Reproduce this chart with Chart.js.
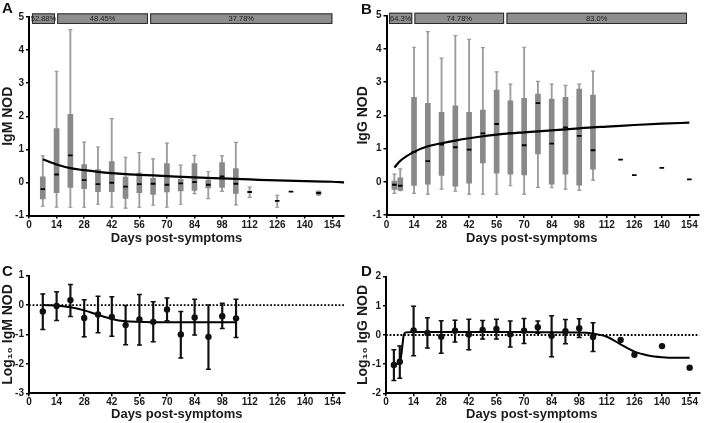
<!DOCTYPE html>
<html><head><meta charset="utf-8">
<script src="https://cdn.jsdelivr.net/npm/chart.js@4.4.1/dist/chart.umd.min.js"></script>
<style>
html,body{margin:0;padding:0;background:#fff;width:705px;height:423px;overflow:hidden;position:relative;}
canvas{position:absolute;}
.lbl{position:absolute;font:bold 15px "Liberation Sans",Arial,sans-serif;line-height:15px;color:#111;}
</style></head><body>
<canvas id="cA" style="left:0;top:0;width:350px;height:250px" width="350" height="250"></canvas>
<canvas id="cB" style="left:355px;top:0;width:350px;height:250px" width="350" height="250"></canvas>
<canvas id="cC" style="left:0;top:250px;width:350px;height:173px" width="350" height="173"></canvas>
<canvas id="cD" style="left:355px;top:250px;width:350px;height:173px" width="350" height="173"></canvas>
<div class="lbl" style="left:2px;top:0px">A</div>
<div class="lbl" style="left:361px;top:1px">B</div>
<div class="lbl" style="left:2px;top:263px">C</div>
<div class="lbl" style="left:361px;top:263px">D</div>
<script>
// ---------------- shared ----------------
const xTickDays = [0,14,28,42,56,70,84,98,112,126,140,154];
const xTitle = 'Days post-symptoms';
const yTicksAB = [-1,0,1,2,3,4,5];
const yTicksC = [-3,-2,-1,0,1];
const yTicksD = [-2,-1,0,1,2];

// ---------------- Panel A : IgM NOD box plots ----------------
const igmDays = [7,14,21,28,35,42,49,56,63,70,77,84,91,98,105,112,126,133,147];
const igmMin  = [-0.72,-0.75,-0.75,-0.75,-0.66,-0.75,-0.78,-0.75,-0.69,-0.75,-0.66,-0.34,-0.49,-0.27,-0.68,-0.45,-0.75,null,-0.39];
const igmQ1   = [-0.50,-0.31,-0.15,-0.19,-0.28,-0.28,-0.48,-0.31,-0.36,-0.29,-0.26,-0.24,-0.17,-0.15,-0.33,null,null,null,-0.36];
const igmMed  = [-0.20,0.24,0.82,0.07,-0.05,-0.01,-0.13,-0.05,-0.04,-0.07,-0.03,0.01,-0.07,0.18,-0.04,-0.29,-0.56,-0.28,-0.32];
const igmQ3   = [0.17,1.63,2.06,0.54,0.39,0.63,0.16,0.28,0.12,0.57,0.09,0.57,0.07,0.60,0.42,null,null,null,-0.28];
const igmMax  = [0.80,3.36,4.62,1.22,1.07,1.93,0.76,0.90,0.71,1.19,0.52,0.82,0.33,0.80,1.21,-0.14,-0.39,null,-0.26];
const igmFitDays = [7,14,21,28,35,42,49,56,63,70,84,98,112,126,140,154,160];
const igmFitVals = [0.70,0.54,0.43,0.37,0.32,0.28,0.25,0.23,0.21,0.19,0.15,0.12,0.09,0.06,0.04,0.02,0.00];
const igmBandFrom  = [1.5,14.3,61.5];
const igmBandTo    = [13.2,60.4,154];
const igmBandLabel = ['52.88%','48.45%','37.78%'];

// ---------------- Panel B : IgG NOD box plots ----------------
const iggDays = [4,7,14,21,28,35,42,49,56,63,70,77,84,91,98,105,119,126,140,154];
const iggMin  = [-0.35,-0.27,-0.35,-0.37,-0.22,-0.28,-0.37,-0.37,-0.37,-0.12,-0.37,-0.17,-0.18,-0.22,-0.26,0.05,null,null,null,null];
const iggQ1   = [-0.23,-0.25,-0.11,-0.07,0.19,-0.13,-0.04,0.57,0.26,0.23,0.21,0.84,-0.07,0.23,-0.10,0.38,null,null,null,null];
const iggMed  = [-0.09,-0.12,0.90,0.62,1.12,1.04,0.97,1.46,1.74,1.47,1.10,2.37,1.15,1.64,1.38,0.95,0.67,0.20,0.42,0.07];
const iggQ3   = [0.02,0.12,2.54,2.36,2.09,2.29,2.09,2.16,2.76,2.44,2.51,2.64,2.49,2.54,2.79,2.61,null,null,null,null];
const iggMax  = [0.23,0.39,4.05,4.52,3.72,4.40,4.29,4.04,3.31,2.94,4.05,3.02,2.94,2.90,2.94,3.33,null,null,null,null];
const iggFitDays = [4,7,14,21,28,35,42,49,56,63,70,77,84,91,98,105,112,126,140,154];
const iggFitVals = [0.43,0.63,0.90,1.07,1.16,1.24,1.31,1.37,1.42,1.46,1.49,1.52,1.55,1.58,1.61,1.64,1.66,1.71,1.75,1.78];
const iggBandFrom  = [1.3,14.2,61.0];
const iggBandTo    = [13.1,59.8,152.8];
const iggBandLabel = ['64.3%','74.78%','83.0%'];

// ---------------- Panel C : Log10 IgM NOD ----------------
const cDays = [7,14,21,28,35,42,49,56,63,70,77,84,91,98,105];
const cMean = [-0.22,-0.03,0.17,-0.44,-0.32,-0.40,-0.68,-0.49,-0.57,-0.15,-1.00,-0.42,-1.08,-0.38,-0.45];
const cHi   = [0.38,0.45,0.70,0.18,0.30,0.28,-0.01,0.36,0.11,0.24,-0.22,0.20,0.00,0.06,0.20];
const cLo   = [-0.83,-0.52,-0.39,-1.08,-0.94,-1.06,-1.35,-1.36,-1.25,-0.53,-1.80,-1.02,-2.18,-0.80,-1.10];
const cFitDays = [7,14,21,28,35,42,49,56,63,84,105];
const cFitVals = [0.00,-0.01,-0.07,-0.18,-0.33,-0.47,-0.55,-0.57,-0.58,-0.58,-0.58];

// ---------------- Panel D : Log10 IgG NOD ----------------
const dDays = [4,7,14,21,28,35,42,49,56,63,70,77,84,91,98,105,119,126,140,154];
const dMean = [-1.03,-0.92,0.16,0.07,-0.06,0.15,0.02,0.17,0.21,0.03,0.15,0.27,-0.03,0.13,0.23,-0.07,-0.17,-0.68,-0.38,-1.12];
const dHi   = [-0.51,-0.38,0.99,0.59,0.49,0.51,0.54,0.50,0.54,0.48,0.57,0.48,0.66,0.53,0.56,0.42,null,null,null,null];
const dLo   = [-1.56,-1.48,-0.71,-0.45,-0.63,-0.24,-0.51,-0.14,-0.14,-0.41,-0.29,0.06,-0.75,-0.30,-0.09,-0.57,null,null,null,null];
const dFitDays = [4,6,7,8,9,10,14,56,98,105,112,119,126,133,140,147,154];
const dFitVals = [-1.00,-0.99,-0.96,-0.55,0.00,0.09,0.10,0.10,0.09,0.05,-0.06,-0.32,-0.57,-0.70,-0.76,-0.78,-0.78];

// ---------------- helpers ----------------
const FAMILY = '"Liberation Sans", Arial, Helvetica, sans-serif';
Chart.defaults.font.family = FAMILY;
const INK = '#1a1a1a';

const bandPlugin = {
  id: 'bands',
  afterDatasetsDraw(chart, args, opts) {
    const items = opts.items || [];
    if (!items.length) return;
    const {ctx, scales: {x, y}} = chart;
    ctx.save();
    items.forEach(b => {
      const x0 = x.getPixelForValue(b.from), x1 = x.getPixelForValue(b.to);
      const y0 = y.getPixelForValue(b.top), y1 = y.getPixelForValue(b.bottom);
      ctx.fillStyle = '#8e8e8e';
      ctx.fillRect(x0, y0, x1 - x0, y1 - y0);
      ctx.strokeStyle = '#2a2a2a';
      ctx.lineWidth = 1;
      ctx.strokeRect(x0 + 0.5, y0 + 0.5, x1 - x0 - 1, y1 - y0 - 1);
      ctx.fillStyle = '#1e1e1e';
      ctx.font = '7.5px ' + FAMILY;
      ctx.textAlign = 'center';
      ctx.textBaseline = 'middle';
      ctx.fillText(b.label, (x0 + x1) / 2, (y0 + y1) / 2 + 0.5);
    });
    ctx.restore();
  }
};

// x-axis title drawn under the axis, slightly left of the axis centre as in the figure
const xTitlePlugin = {
  id: 'xTitle',
  afterDraw(chart, args, opts) {
    const {ctx, chartArea} = chart;
    ctx.save();
    ctx.fillStyle = INK;
    ctx.font = 'bold 13px ' + FAMILY;
    ctx.textAlign = 'center';
    ctx.textBaseline = 'middle';
    ctx.fillText(opts.text, (chartArea.left + chartArea.right) / 2 + opts.dx, chartArea.bottom + opts.dy);
    ctx.restore();
  }
};

function bands(from, to, labels, top, bottom) {
  return from.map((f, i) => ({from: f, to: to[i], label: labels[i], top, bottom}));
}

function boxDatasets(days, mn, q1, med, q3, mx, fitDays, fitVals) {
  const whisk = [], caps = [], boxes = [], meds = [];
  days.forEach((d, i) => {
    if (mn[i] != null && mx[i] != null) {
      whisk.push({x: d, y: [mn[i], mx[i]]});
      caps.push({x: d, y: mn[i]}, {x: d, y: mx[i]});
    }
    if (q1[i] != null && q3[i] != null) boxes.push({x: d, y: [q1[i], q3[i]]});
    meds.push({x: d, y: med[i]});
  });
  return [
    {type: 'line', data: fitDays.map((d, i) => ({x: d, y: fitVals[i]})), borderColor: '#000', borderWidth: 2.2,
     pointRadius: 0, cubicInterpolationMode: 'monotone', fill: false, order: 0},
    {type: 'scatter', data: meds, pointStyle: 'line', radius: 2.3, borderColor: '#000', borderWidth: 1.8, order: 1},
    {type: 'bar', data: boxes, backgroundColor: '#898989', borderWidth: 0, barThickness: 5, grouped: false, order: 2},
    {type: 'scatter', data: caps, pointStyle: 'line', radius: 2, borderColor: '#9a9a9a', borderWidth: 1.2, order: 3},
    {type: 'bar', data: whisk, backgroundColor: '#9d9d9d', borderWidth: 0, barThickness: 1.2, grouped: false, order: 4}
  ];
}

function errDatasets(days, mean, hi, lo, fitDays, fitVals, xMax) {
  const bars = [], caps = [];
  days.forEach((d, i) => {
    if (hi[i] != null && lo[i] != null) {
      bars.push({x: d, y: [lo[i], hi[i]]});
      caps.push({x: d, y: lo[i]}, {x: d, y: hi[i]});
    }
  });
  return [
    {type: 'scatter', data: days.map((d, i) => ({x: d, y: mean[i]})), pointStyle: 'circle', radius: 3.2,
     backgroundColor: '#111', borderColor: '#111', borderWidth: 0, order: 0},
    {type: 'line', data: fitDays.map((d, i) => ({x: d, y: fitVals[i]})), borderColor: '#000', borderWidth: 2,
     pointRadius: 0, cubicInterpolationMode: 'monotone', fill: false, order: 1},
    {type: 'scatter', data: caps, pointStyle: 'line', radius: 2.5, borderColor: '#111', borderWidth: 1.5, order: 2},
    {type: 'bar', data: bars, backgroundColor: '#111', borderWidth: 0, barThickness: 1.5, grouped: false, order: 3},
    {type: 'line', data: [{x: 0, y: 0}, {x: xMax, y: 0}], borderColor: '#000', borderWidth: 1.8,
     borderDash: [1.8, 1.8], pointRadius: 0, fill: false, order: 5}
  ];
}

function axisCommon() {
  return {
    grid: {display: true, drawOnChartArea: false, drawTicks: true, tickLength: 3, color: '#000', lineWidth: 1.5, offset: false},
    border: {display: true, color: '#000', width: 2}
  };
}

function build(id, p) {
  return new Chart(document.getElementById(id), {
    type: 'bar',
    data: {datasets: p.datasets},
    options: {
      responsive: false, animation: false, events: [],
      layout: {padding: {top: p.top, right: p.right, left: 0, bottom: 0}},
      plugins: {legend: {display: false}, tooltip: {enabled: false},
                bands: {items: p.bands || []},
                xTitle: {text: xTitle, dx: p.titleDx, dy: p.titleDy}},
      scales: {
        x: Object.assign(axisCommon(), {
          type: 'linear', min: 0, max: p.xMax, offset: false,
          afterBuildTicks: s => { s.ticks = xTickDays.map(v => ({value: v})); },
          afterFit: s => { s.height = p.xH; },
          ticks: {autoSkip: false, maxRotation: 0, padding: p.tickPad, color: INK, font: {size: 10, weight: 'bold'}},
          title: {display: false}
        }),
        y: Object.assign(axisCommon(), {
          type: 'linear', min: p.yMin, max: p.yMax,
          afterBuildTicks: s => { s.ticks = p.yTicks.map(v => ({value: v})); },
          afterFit: s => { s.width = p.left; },
          ticks: {padding: 2, color: INK, font: {size: 10, weight: 'bold'}},
          title: {display: true, text: p.yTitle, color: INK, font: {size: 14, weight: 'bold'}, padding: {top: 0, bottom: 0}}
        })
      }
    },
    plugins: [bandPlugin, xTitlePlugin]
  });
}

build('cA', {
  datasets: boxDatasets(igmDays, igmMin, igmQ1, igmMed, igmQ3, igmMax, igmFitDays, igmFitVals),
  bands: bands(igmBandFrom, igmBandTo, igmBandLabel, 5.11, 4.79),
  top: 17, right: 5, left: 29, xH: 34.5, xMax: 160, tickPad: 1, titleDx: -10, titleDy: 23,
  yMin: -1, yMax: 5, yTicks: yTicksAB, yTitle: 'IgM NOD'
});
build('cB', {
  datasets: boxDatasets(iggDays, iggMin, iggQ1, iggMed, iggQ3, iggMax, iggFitDays, iggFitVals),
  bands: bands(iggBandFrom, iggBandTo, iggBandLabel, 5.09, 4.75),
  top: 15.7, right: 1.9, left: 31.5, xH: 35, xMax: 159, tickPad: 1, titleDx: -11, titleDy: 23,
  yMin: -1, yMax: 5, yTicks: yTicksAB, yTitle: 'IgG NOD'
});
build('cC', {
  datasets: errDatasets(cDays, cMean, cHi, cLo, cFitDays, cFitVals, 160),
  top: 25.7, right: 4.8, left: 29, xH: 29.7, xMax: 160, tickPad: 0, titleDx: -10, titleDy: 21,
  yMin: -3, yMax: 1, yTicks: yTicksC, yTitle: 'Log\u2081\u2080 IgM NOD'
});
build('cD', {
  datasets: errDatasets(dDays, dMean, dHi, dLo, dFitDays, dFitVals, 159),
  top: 26.7, right: 1.8, left: 31, xH: 29.7, xMax: 159, tickPad: 0, titleDx: -11, titleDy: 21,
  yMin: -2, yMax: 2, yTicks: yTicksD, yTitle: 'Log\u2081\u2080 IgG NOD'
});
</script>
</body></html>
